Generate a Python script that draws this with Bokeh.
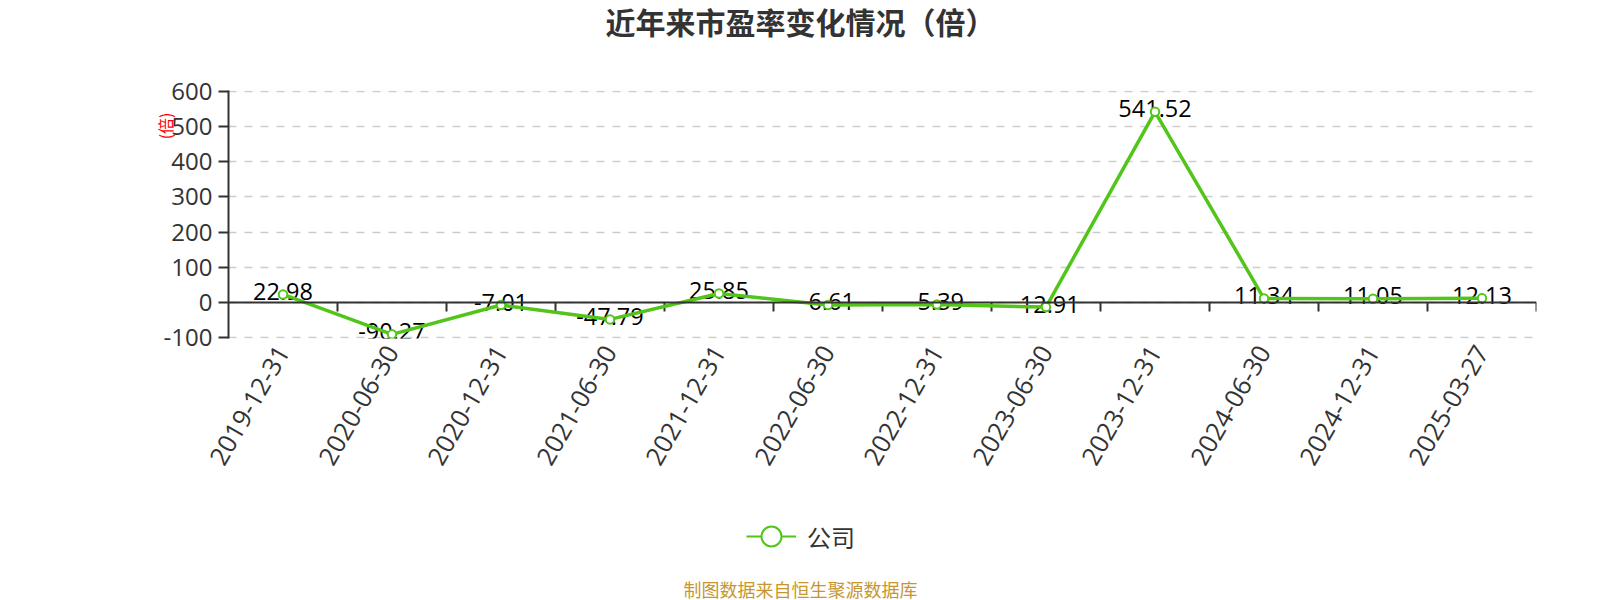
import math
from bokeh.plotting import figure
from bokeh.layouts import column
from bokeh.models import (FactorRange, Range1d, FixedTicker, Span, Title, Label,
                          Legend, LegendItem, ColumnDataSource, NumeralTickFormatter)
from bokeh.core.properties import value
from bokeh.embed import file_html
from bokeh.resources import INLINE

# ---- data ----
categories = ["2019-12-31", "2020-06-30", "2020-12-31", "2021-06-30",
              "2021-12-31", "2022-06-30", "2022-12-31", "2023-06-30",
              "2023-12-31", "2024-06-30", "2024-12-31", "2025-03-27"]
pe_values = [22.98, -90.27, -7.01, -47.79, 25.85, -6.61, -5.39, -12.91,
             541.52, 11.34, 11.05, 12.13]
y_ticks = [-100, 0, 100, 200, 300, 400, 500, 600]
title_text = "近年来市盈率变化情况（倍）"
y_name = "(倍)"
series_name = "公司"
footer_text = "制图数据来自恒生聚源数据库"

# ---- layout constants (pixels) ----
W = 1600
TOP_H, MAIN_H, BOT_H = 60, 450, 90
PAGE_H = TOP_H + MAIN_H + BOT_H
FRAME_L, FRAME_R, FRAME_T, FRAME_B = 228, 1536, 90, 338   # page pixels
Y_LO, Y_HI = -102, 602
unit = (FRAME_B - FRAME_T) / (Y_HI - Y_LO)

GREEN = "#52c41a"
NUM_FONT = "Open Sans"
CJK_FONT = "Noto Sans CJK SC"


def blank_fig(h):
    # the column aligns this frame with the main chart's frame (FRAME_L..FRAME_R),
    # so x data units equal page pixels and y counts up from the strip's bottom
    f = figure(width=W, height=h, output_backend="svg", toolbar_location=None,
               x_range=Range1d(FRAME_L, FRAME_R), y_range=Range1d(0, h),
               x_axis_location=None, y_axis_location=None,
               min_border=0, min_border_left=0, min_border_right=0,
               min_border_top=0, min_border_bottom=0)
    f.outline_line_color = None
    f.grid.visible = False
    f.background_fill_color = "white"
    f.border_fill_color = "white"
    return f


# ---- title strip ----
top = blank_fig(TOP_H)
top.add_layout(Label(x=800, y=TOP_H - 20.5, text=title_text,
                     text_align="center", text_baseline="middle",
                     text_font=CJK_FONT, text_font_size="30px",
                     text_font_style="bold", text_color="#333333"))

# ---- main chart ----
p = figure(width=W, height=MAIN_H, output_backend="svg", toolbar_location=None,
           x_range=FactorRange(*categories, range_padding=0),
           y_range=Range1d(Y_LO, Y_HI),
           min_border_left=FRAME_L, min_border_right=W - FRAME_R,
           min_border_top=FRAME_T - TOP_H,
           min_border_bottom=TOP_H + MAIN_H - FRAME_B)
p.outline_line_color = None
p.background_fill_color = "white"
p.border_fill_color = "white"

p.yaxis.ticker = FixedTicker(ticks=y_ticks)
p.yaxis.formatter = NumeralTickFormatter(format="0")
p.yaxis.axis_line_color = "#333333"
p.yaxis.axis_line_width = 2
p.yaxis.major_tick_line_color = "#333333"
p.yaxis.major_tick_line_width = 2
p.yaxis.major_tick_out = 10
p.yaxis.major_tick_in = 0
p.yaxis.minor_tick_line_color = None
p.yaxis.major_label_standoff = 6
p.yaxis.major_label_text_font = NUM_FONT
p.yaxis.major_label_text_font_size = "24px"
p.yaxis.major_label_text_color = "#333333"

p.xaxis.axis_line_color = None
p.xaxis.major_tick_line_color = None
p.xaxis.major_tick_out = 0
p.xaxis.major_tick_in = 0
p.xaxis.minor_tick_line_color = None
p.xaxis.major_label_orientation = math.pi / 3
p.xaxis.major_label_standoff = 9
p.xaxis.major_label_text_font = NUM_FONT
p.xaxis.major_label_text_font_size = "25.5px"
p.xaxis.major_label_text_color = "#333333"

p.xgrid.grid_line_color = None
p.ygrid.ticker = FixedTicker(ticks=y_ticks)
p.ygrid.grid_line_color = "#cccccc"
p.ygrid.grid_line_width = 1.5
p.ygrid.grid_line_dash = "8 8"

# zero axis line and category boundary ticks
p.add_layout(Span(location=0, dimension="width", line_color="#333333", line_width=2))
bounds = list(range(1, len(categories) + 1))
tick_len = 9 / unit
p.segment(x0=bounds, y0=[0] * len(bounds), x1=bounds, y1=[-tick_len] * len(bounds),
          line_color="#333333", line_width=2)

src = ColumnDataSource(dict(x=categories, y=pe_values,
                            t=[f"{v:.2f}" for v in pe_values]))
p.text(x="x", y="y", text="t", source=src, text_align="center",
       text_baseline="middle", y_offset=-3, text_color="#000000",
       text_font=value(NUM_FONT), text_font_size="23.5px")
p.line(x="x", y="y", source=src, line_color=GREEN, line_width=3.5)
p.scatter(x="x", y="y", source=src, size=8.5, marker="circle",
          fill_color="white", line_color=GREEN, line_width=2)

# y axis name, in the left panel
yname = Title(text=y_name, align="right", offset=22, standoff=-32,
              text_font=CJK_FONT, text_font_size="16px",
              text_font_style="normal", text_color="#ff0000")
p.add_layout(yname, "left")

# ---- legend + footer strip ----
bot = blank_fig(BOT_H)
nan = float("nan")
lr = bot.line(x=[nan], y=[nan], line_color=GREEN, line_width=2)
sr = bot.scatter(x=[nan], y=[nan], marker="circle", fill_color="white",
                 line_color=GREEN, line_width=2)
legend = Legend(items=[LegendItem(label=series_name, renderers=[lr, sr])],
                location=(746 - FRAME_L, 38), orientation="horizontal",
                glyph_width=50, glyph_height=52, label_standoff=11,
                padding=0, margin=0, spacing=0,
                border_line_color=None, background_fill_alpha=0,
                label_text_font=CJK_FONT, label_text_font_size="24px",
                label_text_color="#333333")
bot.add_layout(legend)
bot.add_layout(Label(x=800, y=PAGE_H - 589 + 1, text=footer_text,
                     text_align="center", text_baseline="middle",
                     text_font=CJK_FONT, text_font_size="18px",
                     text_color="#c8962e"))

layout = column(top, p, bot, spacing=0)
open("out.html", "w").write(file_html(layout, INLINE))
